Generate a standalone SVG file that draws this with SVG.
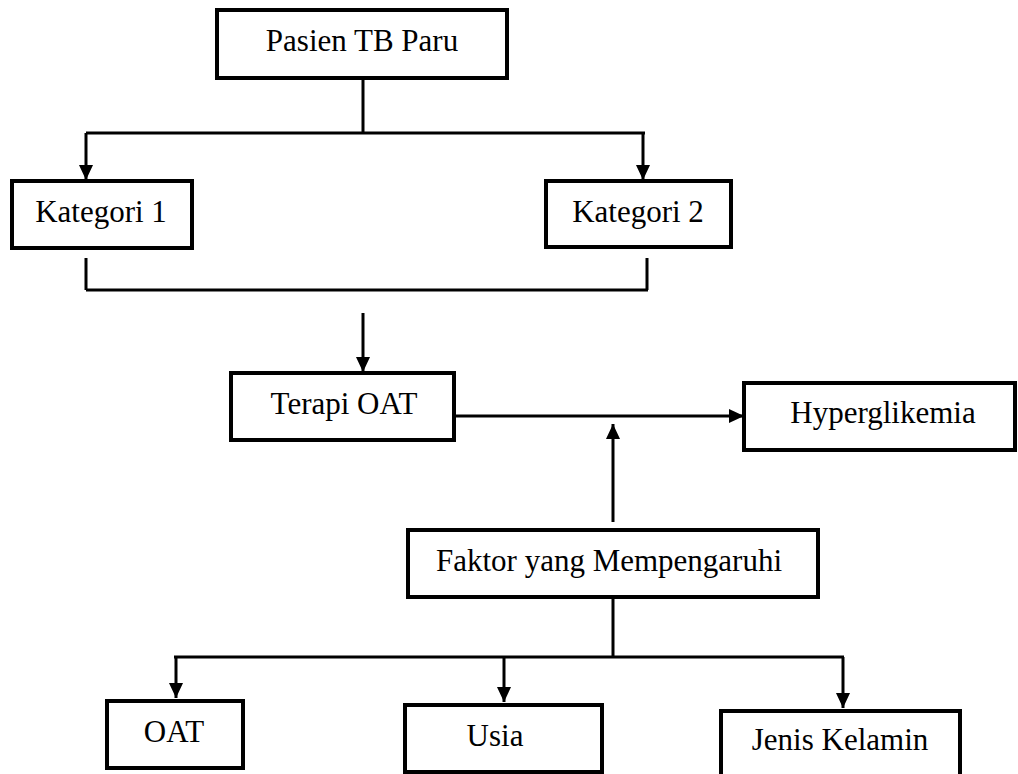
<svg xmlns="http://www.w3.org/2000/svg" width="1018" height="774" viewBox="0 0 1018 774">
<style>
.box{fill:#fff;stroke:#000;stroke-width:4}
.lbl{font-family:"Liberation Serif","Times New Roman",serif;font-size:31px;fill:#000;text-anchor:middle}
.ln{fill:none;stroke:#000;stroke-width:3}
.ar{fill:none;stroke:#000;stroke-width:3;marker-end:url(#ah)}
</style>
<defs>
<marker id="ah" markerUnits="userSpaceOnUse" markerWidth="16" markerHeight="15" refX="15" refY="7" orient="auto">
<path d="M0,0 L15,7 L0,14 Z" fill="#000"/>
</marker>
</defs>
<rect width="1018" height="774" fill="#fff"/>
<g id="connectors">
<path class="ln" d="M363,78 V133 M86,133 H645"/>
<path class="ar" d="M86,133 V180"/>
<path class="ar" d="M643,133 V180"/>
<path class="ln" d="M86,258 V290 M647,258 V290 M86,290 H648"/>
<path class="ar" d="M363,313 V372"/>
<path class="ar" d="M454,416 H744"/>
<path class="ar" d="M613,522 V424"/>
<path class="ln" d="M613,597 V657 M174,657 H844"/>
<path class="ar" d="M176,657 V698"/>
<path class="ar" d="M504,657 V702"/>
<path class="ar" d="M843,657 V708"/>
</g>
<g id="node-pasien"><rect class="box" x="217" y="10" width="290" height="68"/><text class="lbl" x="362" y="51">Pasien TB Paru</text></g>
<g id="node-kategori1"><rect class="box" x="12" y="181" width="180" height="67"/><text class="lbl" x="101" y="222">Kategori 1</text></g>
<g id="node-kategori2"><rect class="box" x="546" y="181" width="185" height="66"/><text class="lbl" x="638" y="222">Kategori 2</text></g>
<g id="node-terapi"><rect class="box" x="231" y="373" width="223" height="67"/><text class="lbl" x="344" y="414">Terapi OAT</text></g>
<g id="node-hyper"><rect class="box" x="744" y="383" width="271" height="67"/><text class="lbl" x="883" y="423">Hyperglikemia</text></g>
<g id="node-faktor"><rect class="box" x="408" y="530" width="410" height="67"/><text class="lbl" x="609" y="571">Faktor yang Mempengaruhi</text></g>
<g id="node-oat"><rect class="box" x="107" y="701" width="136" height="67"/><text class="lbl" x="174" y="742">OAT</text></g>
<g id="node-usia"><rect class="box" x="405" y="705" width="197" height="67"/><text class="lbl" x="495" y="746">Usia</text></g>
<g id="node-jenis"><rect class="box" x="721" y="711" width="239" height="70"/><text class="lbl" x="840" y="750">Jenis Kelamin</text></g>
</svg>
